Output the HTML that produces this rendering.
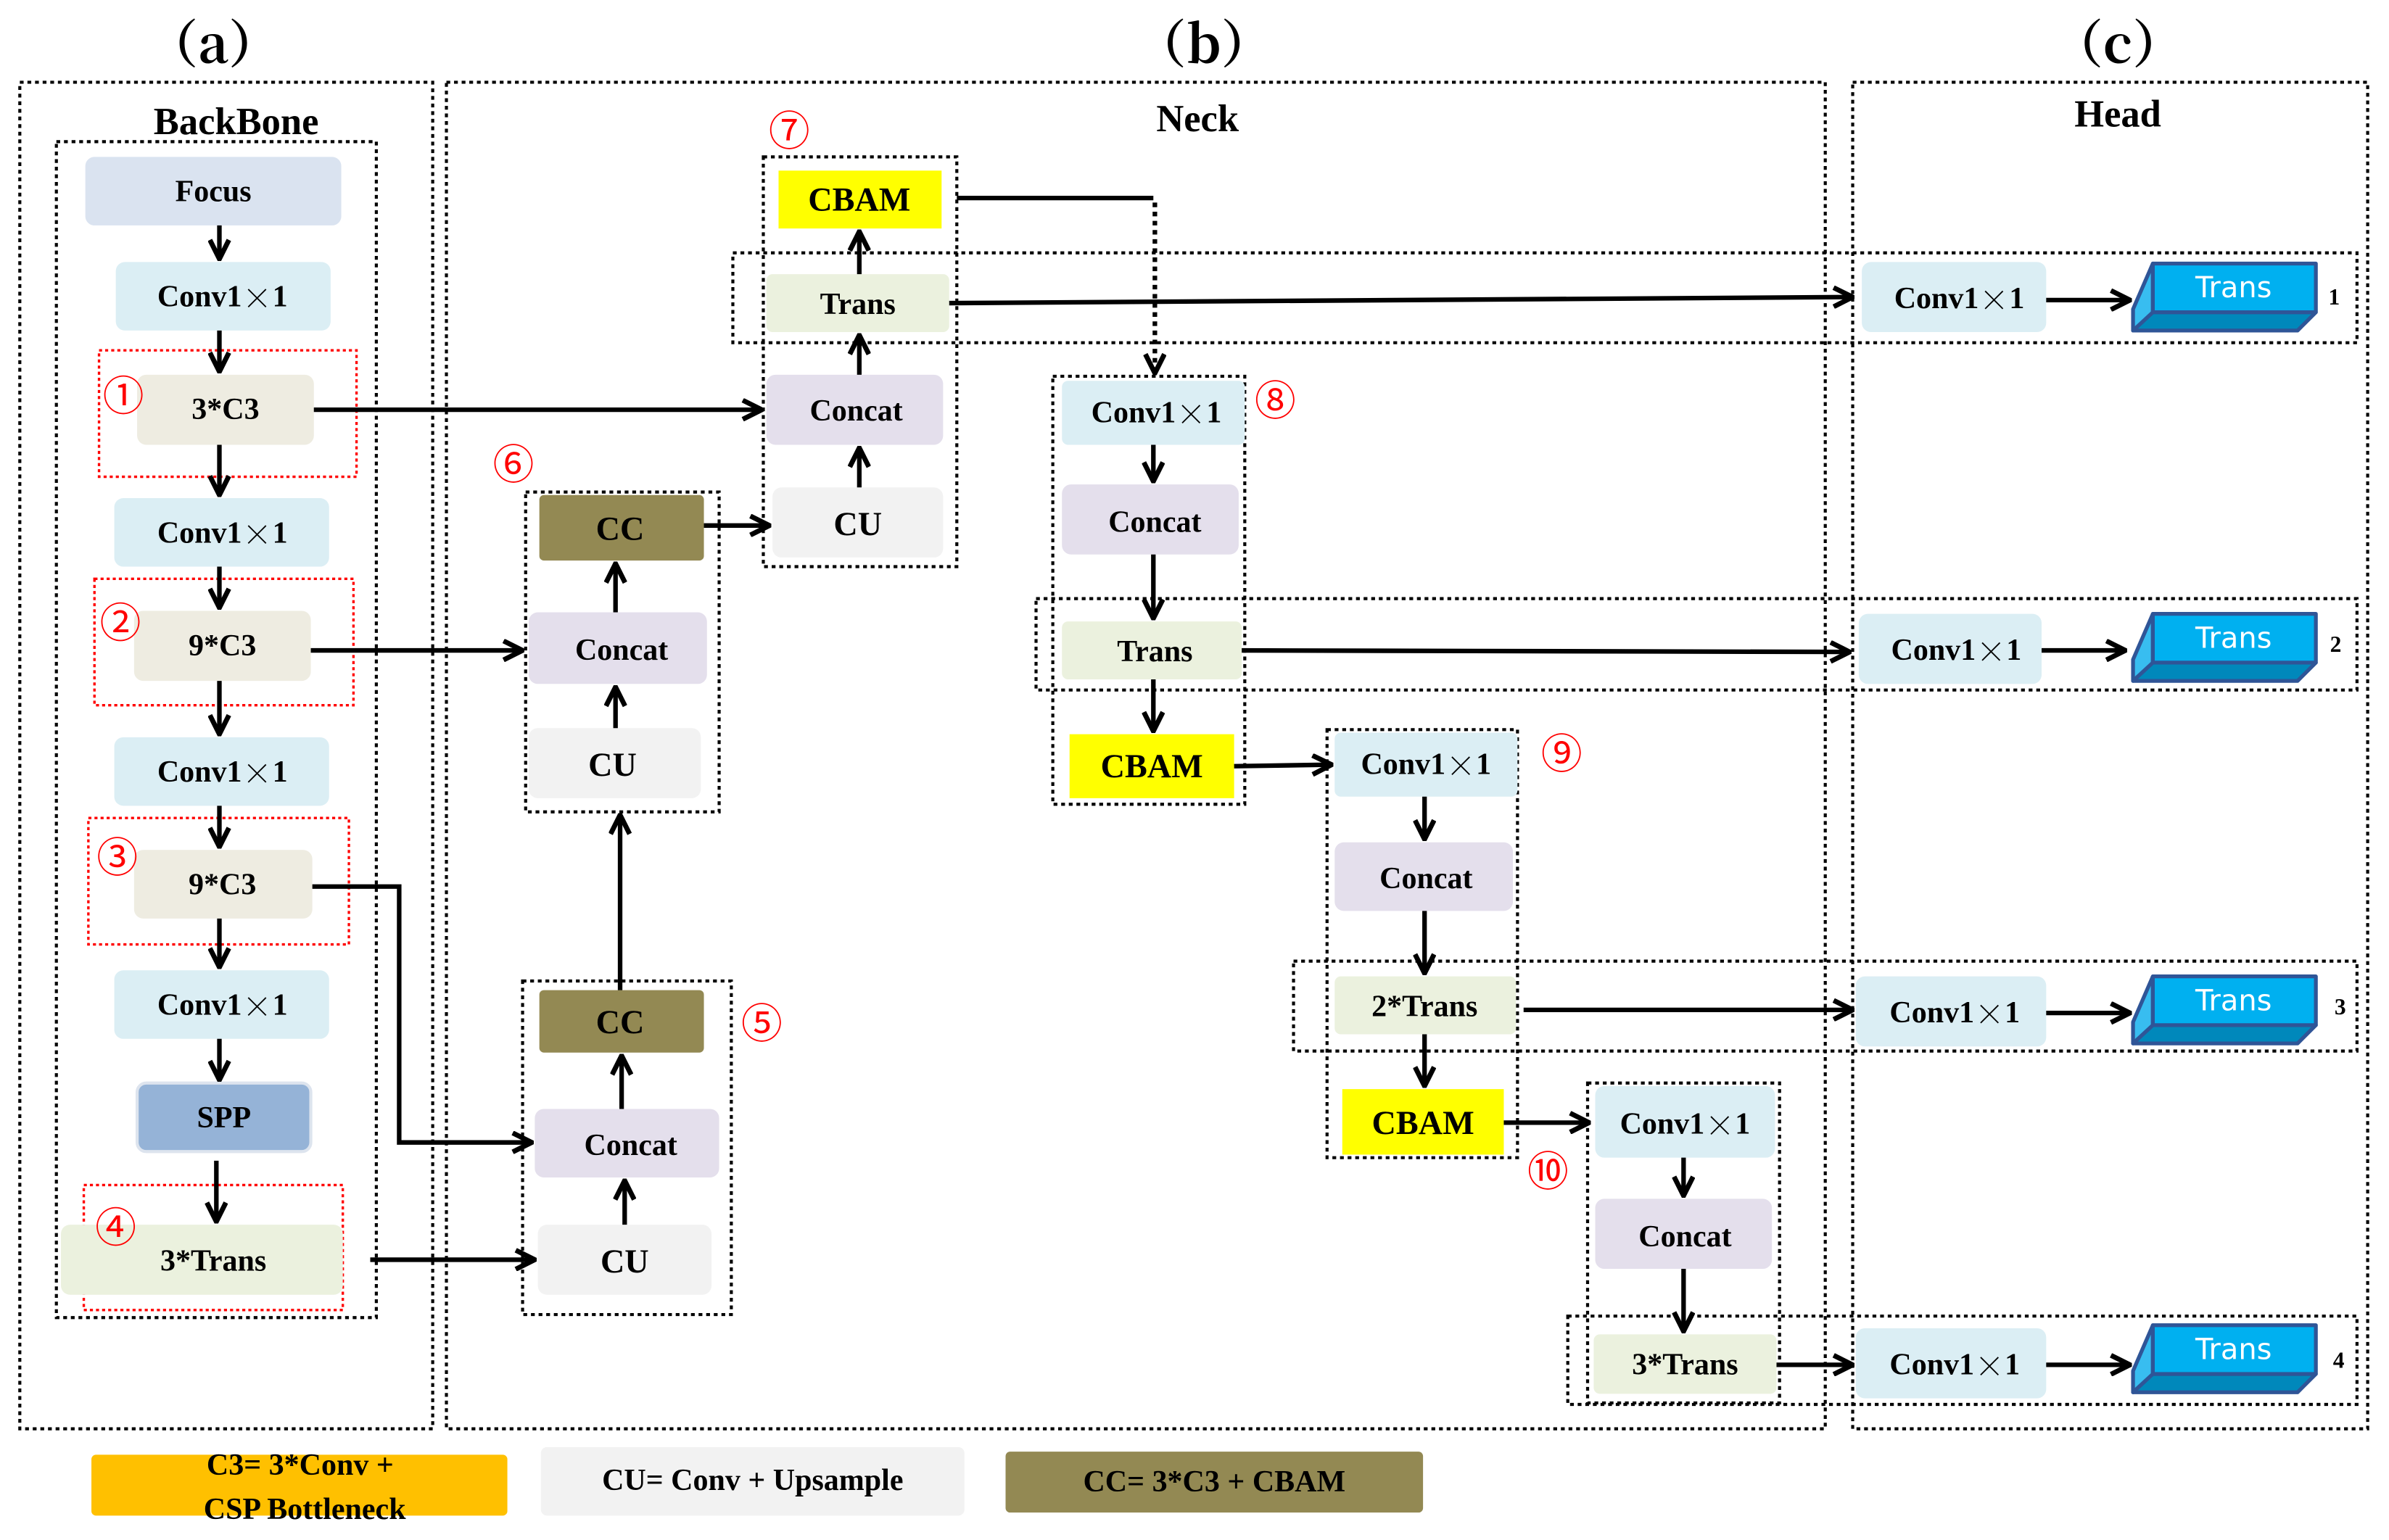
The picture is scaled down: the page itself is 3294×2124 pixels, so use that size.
<!DOCTYPE html>
<html><head><meta charset="utf-8"><style>
html,body{margin:0;padding:0;background:#fff;}
svg{display:block}
text{font-family:"Liberation Serif",serif;font-weight:bold;fill:#000;text-anchor:middle;dominant-baseline:central}
.n{fill:#f00;font-weight:normal;font-family:"Noto Sans CJK SC","DejaVu Sans",sans-serif}
.t{font-family:"Noto Serif CJK SC","Liberation Serif",serif;font-weight:bold}
.w{fill:#fff;font-family:'DejaVu Sans',sans-serif;font-weight:normal}
</style></head><body>
<svg width="3294" height="2124" viewBox="0 0 1568 1011" preserveAspectRatio="none" xmlns="http://www.w3.org/2000/svg">
<defs>
<marker id="a" viewBox="0 0 12 12" refX="11" refY="6" markerWidth="5" markerHeight="5" orient="auto" markerUnits="strokeWidth">
<path d="M1,1 L11,6 L1,11" fill="none" stroke="#000" stroke-width="2.6"/>
</marker>
</defs>
<rect width="1568" height="1011" fill="#fff"/>
<g fill="none" stroke="#000" stroke-width="2" stroke-dasharray="2.5,2.5">
<rect x="13" y="54" width="271" height="884"/>
<rect x="293" y="54" width="905" height="884"/>
<rect x="1216" y="54" width="338" height="884"/>
<rect x="37" y="93" width="210" height="772"/>
<rect x="501" y="103" width="127" height="269"/>
<rect x="481" y="166" width="1066" height="59"/>
<rect x="345" y="323" width="127" height="210"/>
<rect x="343" y="644" width="137" height="219"/>
<rect x="691" y="247" width="126" height="281"/>
<rect x="680" y="393" width="867" height="60"/>
<rect x="871" y="479" width="125" height="281"/>
<rect x="849" y="631" width="698" height="59"/>
<rect x="1042" y="711" width="126" height="210"/>
<rect x="1029" y="864" width="518" height="58"/>
</g>
<g fill="none" stroke="#f00" stroke-width="1.6" stroke-dasharray="2,2">
<rect x="65" y="230" width="169" height="83"/>
<rect x="62" y="380" width="170" height="83"/>
<rect x="58" y="537" width="171" height="83"/>
<rect x="55" y="778" width="170" height="82"/>
</g>
<text class="t" x="140" y="27" font-size="34">（a）</text>
<text class="t" x="790" y="27" font-size="34">（b）</text>
<text class="t" x="1390" y="27" font-size="34">（c）</text>
<text x="155" y="80" font-size="25">BackBone</text>
<text x="786" y="78" font-size="25">Neck</text>
<text x="1390" y="75" font-size="25">Head</text>
<g font-size="20">
<rect x="56" y="103" width="168" height="45" rx="6" fill="#dae3f0"/><text x="140" y="126">Focus</text>
<rect x="76" y="172" width="141" height="45" rx="6" fill="#dbeef4"/><text x="146" y="195">Conv1<tspan class="t" style="font-weight:normal">×</tspan>1</text>
<rect x="90" y="246" width="116" height="46" rx="6" fill="#eeece1"/><text x="148" y="269">3*C3</text>
<rect x="75" y="327" width="141" height="45" rx="6" fill="#dbeef4"/><text x="146" y="350">Conv1<tspan class="t" style="font-weight:normal">×</tspan>1</text>
<rect x="88" y="401" width="116" height="46" rx="6" fill="#eeece1"/><text x="146" y="424">9*C3</text>
<rect x="75" y="484" width="141" height="45" rx="6" fill="#dbeef4"/><text x="146" y="507">Conv1<tspan class="t" style="font-weight:normal">×</tspan>1</text>
<rect x="88" y="558" width="117" height="45" rx="6" fill="#eeece1"/><text x="146" y="581">9*C3</text>
<rect x="75" y="637" width="141" height="45" rx="6" fill="#dbeef4"/><text x="146" y="660">Conv1<tspan class="t" style="font-weight:normal">×</tspan>1</text>
<rect x="90" y="711" width="114" height="45" rx="6" fill="#95b3d7" stroke="#dde4ee" stroke-width="2"/><text x="147" y="734">SPP</text>
<rect x="40" y="804" width="185" height="46" rx="6" fill="#ebf1de"/><text x="140" y="828">3*Trans</text>

<rect x="511" y="112" width="107" height="38" fill="#ffff00"/><text x="564" y="131" font-size="22">CBAM</text>
<rect x="503" y="180" width="120" height="38" rx="4" fill="#ebf1de"/><text x="563" y="200">Trans</text>
<rect x="503" y="246" width="116" height="46" rx="6" fill="#e4dfec"/><text x="562" y="270">Concat</text>
<rect x="507" y="320" width="112" height="46" rx="6" fill="#f2f2f2"/><text x="563" y="344" font-size="22">CU</text>

<rect x="354" y="325" width="108" height="43" rx="3" fill="#938953"/><text x="407" y="347" font-size="22">CC</text>
<rect x="347" y="402" width="117" height="47" rx="6" fill="#e4dfec"/><text x="408" y="427">Concat</text>
<rect x="347" y="478" width="113" height="46" rx="6" fill="#f2f2f2"/><text x="402" y="502" font-size="22">CU</text>

<rect x="354" y="650" width="108" height="41" rx="3" fill="#938953"/><text x="407" y="671" font-size="22">CC</text>
<rect x="351" y="728" width="121" height="45" rx="6" fill="#e4dfec"/><text x="414" y="752">Concat</text>
<rect x="353" y="804" width="114" height="46" rx="6" fill="#f2f2f2"/><text x="410" y="828" font-size="22">CU</text>

<rect x="697" y="250" width="120" height="42" rx="4" fill="#dbeef4"/><text x="759" y="271">Conv1<tspan class="t" style="font-weight:normal">×</tspan>1</text>
<rect x="697" y="318" width="116" height="46" rx="6" fill="#e4dfec"/><text x="758" y="343">Concat</text>
<rect x="697" y="408" width="118" height="38" rx="4" fill="#ebf1de"/><text x="758" y="428">Trans</text>
<rect x="702" y="482" width="108" height="42" fill="#ffff00"/><text x="756" y="503" font-size="22">CBAM</text>

<rect x="876" y="481" width="120" height="42" rx="4" fill="#dbeef4"/><text x="936" y="502">Conv1<tspan class="t" style="font-weight:normal">×</tspan>1</text>
<rect x="876" y="553" width="117" height="45" rx="6" fill="#e4dfec"/><text x="936" y="577">Concat</text>
<rect x="876" y="641" width="119" height="38" rx="4" fill="#ebf1de"/><text x="935" y="661">2*Trans</text>
<rect x="881" y="715" width="106" height="43" fill="#ffff00"/><text x="934" y="737" font-size="22">CBAM</text>

<rect x="1047" y="713" width="118" height="47" rx="6" fill="#dbeef4"/><text x="1106" y="738">Conv1<tspan class="t" style="font-weight:normal">×</tspan>1</text>
<rect x="1047" y="787" width="116" height="46" rx="6" fill="#e4dfec"/><text x="1106" y="812">Concat</text>
<rect x="1046" y="876" width="120" height="39" rx="4" fill="#ebf1de"/><text x="1106" y="896">3*Trans</text>

<rect x="1222" y="172" width="121" height="46" rx="6" fill="#dbeef4"/><text x="1286" y="196">Conv1<tspan class="t" style="font-weight:normal">×</tspan>1</text>
<rect x="1220" y="403" width="120" height="46" rx="6" fill="#dbeef4"/><text x="1284" y="427">Conv1<tspan class="t" style="font-weight:normal">×</tspan>1</text>
<rect x="1218" y="641" width="125" height="46" rx="6" fill="#dbeef4"/><text x="1283" y="665">Conv1<tspan class="t" style="font-weight:normal">×</tspan>1</text>
<rect x="1218" y="872" width="125" height="46" rx="6" fill="#dbeef4"/><text x="1283" y="896">Conv1<tspan class="t" style="font-weight:normal">×</tspan>1</text>
</g>
<g stroke="#2f5597" stroke-width="2.5" stroke-linejoin="round">
<g id="t1">
<polygon points="1400,203 1413,173 1413,213 1400,217" fill="#38bdf0"/>
<polygon points="1400,217 1413,205 1520,205 1508,217" fill="#0088bb"/>
<rect x="1413" y="173" width="107" height="32" fill="#00b0f0"/>
</g>
<use href="#t1" y="230"/><use href="#t1" y="468"/><use href="#t1" y="697"/>
</g>
<g font-size="19">
<text class="w" x="1466" y="189">Trans</text>
<text class="w" x="1466" y="419">Trans</text>
<text class="w" x="1466" y="657">Trans</text>
<text class="w" x="1466" y="886">Trans</text>
</g>
<g font-size="15"><text x="1532" y="195">1</text><text x="1533" y="423">2</text><text x="1536" y="661">3</text><text x="1535" y="893">4</text></g>
<g font-size="27">
<text class="n" x="81" y="258">①</text>
<text class="n" x="79" y="407">②</text>
<text class="n" x="77" y="561">③</text>
<text class="n" x="76" y="804">④</text>
<text class="n" x="500" y="670">⑤</text>
<text class="n" x="337" y="303">⑥</text>
<text class="n" x="518" y="84">⑦</text>
<text class="n" x="837" y="261">⑧</text>
<text class="n" x="1025" y="493">⑨</text>
<text class="n" x="1016" y="767">⑩</text>
</g>
<g stroke="#000" stroke-width="3" fill="none" marker-end="url(#a)">
<path d="M144,148V170"/><path d="M144,217V244"/><path d="M144,292V325"/><path d="M144,372V399"/>
<path d="M144,447V482"/><path d="M144,529V556"/><path d="M144,603V635"/><path d="M144,682V709"/><path d="M142,762V802"/>
<path d="M206,269H500"/><path d="M204,427H343"/><path d="M205,582H262V750H349"/><path d="M243,827H351"/>
<path d="M407,650V535"/><path d="M404,478V451"/><path d="M404,402V370"/>
<path d="M410,804V775"/><path d="M408,728V693"/>
<path d="M462,345H505"/>
<path d="M564,320V294"/><path d="M564,246V220"/><path d="M564,180V152"/>
<path d="M623,199L1216,195"/><path d="M1343,197H1398"/>
<path d="M757,292V316"/><path d="M757,364V406"/><path d="M757,446V480"/>
<path d="M810,503L874,502"/><path d="M815,427L1214,428"/><path d="M1340,427H1395"/>
<path d="M935,523V551"/><path d="M935,598V639"/><path d="M935,679V713"/>
<path d="M987,737H1043"/><path d="M1000,663H1216"/><path d="M1343,665H1398"/>
<path d="M1105,760V785"/><path d="M1105,833V874"/><path d="M1166,896H1216"/><path d="M1343,896H1398"/>
</g>
<path d="M628,130H757" stroke="#000" stroke-width="3" fill="none"/>
<path d="M758,133V245" stroke="#000" stroke-width="3" stroke-dasharray="3,3" fill="none" marker-end="url(#a)"/>
<rect x="60" y="955" width="273" height="40" rx="3" fill="#ffc000"/>
<text x="197" y="962" font-size="20">C3=  3*Conv +</text>
<text x="200" y="991" font-size="20">CSP Bottleneck</text>
<rect x="355" y="950" width="278" height="45" rx="4" fill="#f2f2f2"/>
<text x="494" y="972" font-size="20">CU=  Conv +  Upsample</text>
<rect x="660" y="953" width="274" height="40" rx="3" fill="#938953"/>
<text x="797" y="973" font-size="20">CC=  3*C3 +  CBAM</text>
</svg>
</body></html>
